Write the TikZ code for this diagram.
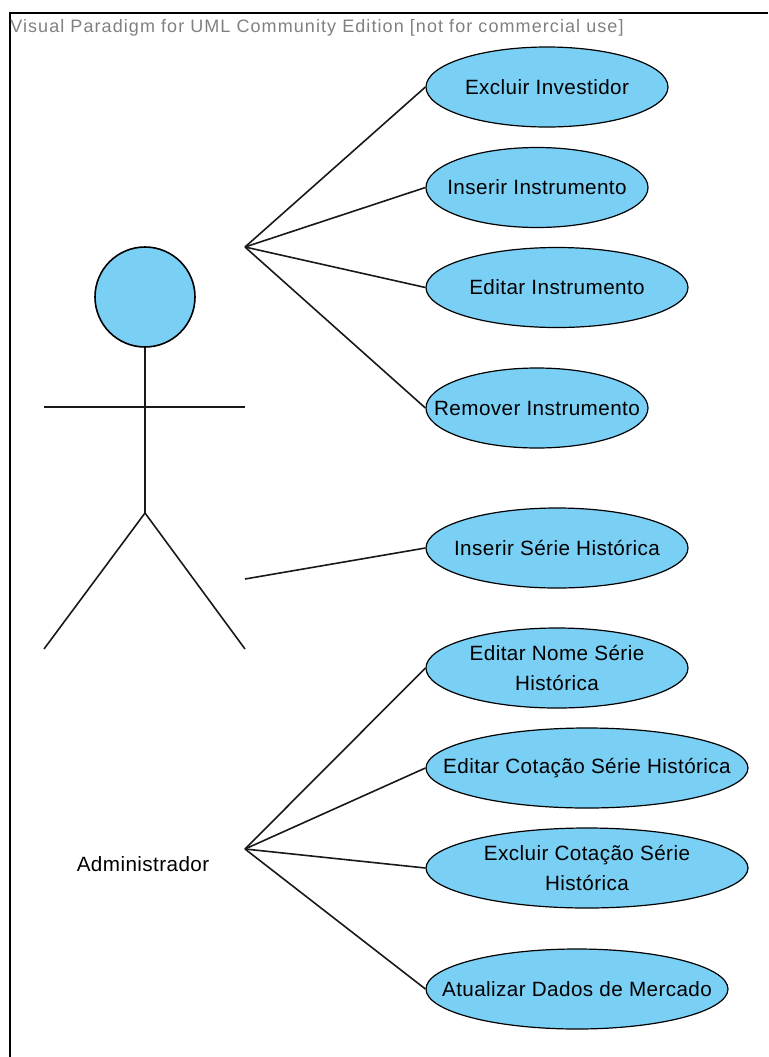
\documentclass[tikz,border=0pt]{standalone}
\usepackage{fontspec}
\setmainfont{Liberation Sans}
\newfontfamily\umlfont[LetterSpace=2]{Liberation Sans}
\newfontfamily\markfont[LetterSpace=6]{Liberation Sans}
\usetikzlibrary{shapes.geometric}
\definecolor{ucfill}{RGB}{122,207,245}
\tikzset{
    usecase/.style={ellipse,draw=black,fill=ucfill,line width=0.9pt,inner sep=-30pt,minimum height=60pt,align=center,font=\umlfont\fontsize{15.5}{22.5}\selectfont},
    link/.style={line width=1.2pt,black!90},
}
\begin{document}
\begin{tikzpicture}[x=0.75pt,y=-0.75pt]
    \useasboundingbox (0,0) rectangle (768,1057);
    \draw[line width=1.4pt] (768,13)--(10,13)--(10,1057); %moldura
    \node[anchor=west,inner sep=0pt,text=black!50,font=\markfont\fontsize{13.5}{14}\selectfont] (title) at (10,28) {Visual Paradigm for UML Community Edition [not for commercial use]};

    %ator
    \node[circle,draw=black,fill=ucfill,line width=1.2pt,minimum size=75pt,inner sep=0pt] (head) at (145,297) {};
    \coordinate (hip) at (145,513);
    \coordinate (armL) at (44,407);
    \coordinate (armR) at (245,407);
    \coordinate (legL) at (44,649);
    \coordinate (legR) at (245,649);
    \draw[link] (head.south)--(hip);
    \draw[link] (armL)--(armR);
    \draw[link] (legL)--(hip)--(legR);
    \node[font=\umlfont\fontsize{15.5}{22.5}\selectfont,inner sep=0pt] (admin) at (143,864) {Administrador};

    \coordinate (topA) at (245,247);
    \coordinate (midA) at (245,579);
    \coordinate (lowA) at (245,849);

    %casos de uso
    \node[usecase,minimum width=181.5pt] (exInv) at (547,87) {Excluir Investidor};
    \node[usecase,minimum width=166.5pt] (inIns) at (537,187.5) {Inserir Instrumento};
    \node[usecase,minimum width=196.5pt] (edIns) at (557,287.5) {Editar Instrumento};
    \node[usecase,minimum width=166.5pt] (reIns) at (537,408) {Remover Instrumento};
    \node[usecase,minimum width=196.5pt] (inSer) at (557,548) {Inserir Série Histórica};
    \node[usecase,minimum width=196.5pt] (edNom) at (557,668) {Editar Nome Série\\Histórica};
    \node[usecase,minimum width=241.5pt] (edCot) at (587,768) {Editar Cotação Série Histórica};
    \node[usecase,minimum width=241.5pt] (exCot) at (587,868) {Excluir Cotação Série\\Histórica};
    \node[usecase,minimum width=226.5pt] (atDad) at (577,989) {Atualizar Dados de Mercado};

    \foreach \t in {exInv,inIns,edIns,reIns}{
        \draw[link] (topA)--(\t.west);
    }
    \draw[link] (midA)--(inSer.west);
    \foreach \t in {edNom,edCot,exCot,atDad}{
        \draw[link] (lowA)--(\t.west);
    }
\end{tikzpicture}
\end{document}
